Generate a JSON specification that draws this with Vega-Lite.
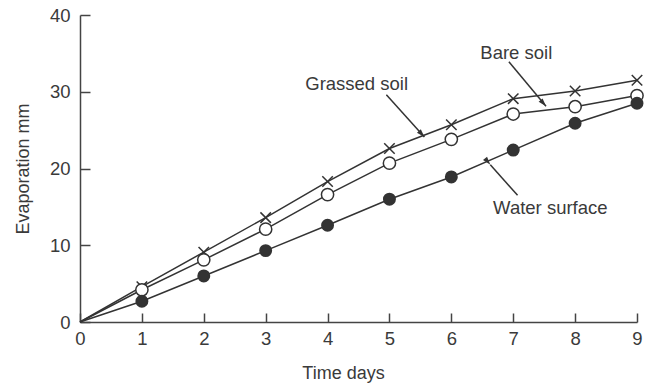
{
  "$schema": "https://vega.github.io/schema/vega-lite/v6.json",
  "width": 557,
  "height": 307,
  "autosize": "none",
  "padding": {"left": 80, "top": 15, "right": 13, "bottom": 63},
  "background": "white",
  "config": {
    "view": {"stroke": null},
    "font": "Liberation Sans",
    "axis": {
      "domainColor": "#444",
      "domainWidth": 1.5,
      "tickColor": "#444",
      "tickWidth": 1.5,
      "grid": false,
      "labelFont": "Liberation Sans",
      "labelFontSize": 18.5,
      "labelColor": "#3a3a3a",
      "labelFlush": false,
      "titleFont": "Liberation Sans",
      "titleFontSize": 18,
      "titleFontWeight": "normal",
      "titleColor": "#3a3a3a"
    }
  },
  "datasets": {
    "series": [
      {"day": 0, "evap": 0, "series": "Grassed soil"},
      {"day": 1, "evap": 4.6, "series": "Grassed soil"},
      {"day": 2, "evap": 9.1, "series": "Grassed soil"},
      {"day": 3, "evap": 13.6, "series": "Grassed soil"},
      {"day": 4, "evap": 18.3, "series": "Grassed soil"},
      {"day": 5, "evap": 22.6, "series": "Grassed soil"},
      {"day": 6, "evap": 25.7, "series": "Grassed soil"},
      {"day": 7, "evap": 29.1, "series": "Grassed soil"},
      {"day": 8, "evap": 30.1, "series": "Grassed soil"},
      {"day": 9, "evap": 31.5, "series": "Grassed soil"},
      {"day": 0, "evap": 0, "series": "Bare soil"},
      {"day": 1, "evap": 4.2, "series": "Bare soil"},
      {"day": 2, "evap": 8.1, "series": "Bare soil"},
      {"day": 3, "evap": 12.1, "series": "Bare soil"},
      {"day": 4, "evap": 16.6, "series": "Bare soil"},
      {"day": 5, "evap": 20.7, "series": "Bare soil"},
      {"day": 6, "evap": 23.8, "series": "Bare soil"},
      {"day": 7, "evap": 27.1, "series": "Bare soil"},
      {"day": 8, "evap": 28.05, "series": "Bare soil"},
      {"day": 9, "evap": 29.5, "series": "Bare soil"},
      {"day": 0, "evap": 0, "series": "Water surface"},
      {"day": 1, "evap": 2.7, "series": "Water surface"},
      {"day": 2, "evap": 6.0, "series": "Water surface"},
      {"day": 3, "evap": 9.3, "series": "Water surface"},
      {"day": 4, "evap": 12.6, "series": "Water surface"},
      {"day": 5, "evap": 16.0, "series": "Water surface"},
      {"day": 6, "evap": 18.9, "series": "Water surface"},
      {"day": 7, "evap": 22.4, "series": "Water surface"},
      {"day": 8, "evap": 25.9, "series": "Water surface"},
      {"day": 9, "evap": 28.5, "series": "Water surface"}
    ],
    "arrows": [
      {"label": "Grassed soil", "day": 5.565, "evap": 24.1, "day2": 4.95, "evap2": 29.6},
      {"label": "Bare soil", "day": 7.53, "evap": 28.1, "day2": 6.93, "evap2": 33.9},
      {"label": "Water surface", "day": 6.63, "evap": 20.5, "day2": 7.07, "evap2": 16.5}
    ],
    "labels": [
      {"label": "Grassed soil", "day": 4.47, "evap": 31.0},
      {"label": "Bare soil", "day": 7.05, "evap": 35.0},
      {"label": "Water surface", "day": 7.6, "evap": 14.85}
    ]
  },
  "encoding": {
    "x": {
      "field": "day",
      "type": "quantitative",
      "scale": {"domain": [0, 9], "nice": false, "zero": false},
      "axis": {
        "title": "Time days",
        "values": [0, 1, 2, 3, 4, 5, 6, 7, 8, 9],
        "format": "d",
        "tickSize": -9,
        "labelPadding": 16,
        "titleX": 263,
        "titleY": 56,
        "titleBaseline": "alphabetic"
      }
    },
    "y": {
      "field": "evap",
      "type": "quantitative",
      "scale": {"domain": [0, 40], "nice": false},
      "axis": {
        "title": "Evaporation mm",
        "values": [0, 10, 20, 30, 40],
        "tickSize": -10,
        "labelPadding": 20,
        "titleX": -52,
        "titleBaseline": "alphabetic"
      }
    }
  },
  "layer": [
    {
      "data": {"name": "series"},
      "mark": {"type": "line", "color": "#333", "strokeWidth": 1.5},
      "encoding": {"detail": {"field": "series"}}
    },
    {
      "data": {"name": "series"},
      "transform": [{"filter": "datum.series == 'Grassed soil' && datum.day > 0"}],
      "mark": {"type": "point", "shape": "M-1,-1L1,1M-1,1L1,-1", "size": 110, "stroke": "#333", "strokeWidth": 1.5, "filled": false, "opacity": 1}
    },
    {
      "data": {"name": "series"},
      "transform": [{"filter": "datum.series == 'Bare soil' && datum.day > 0"}],
      "mark": {"type": "point", "shape": "circle", "size": 150, "stroke": "#333", "strokeWidth": 1.5, "fill": "white", "filled": true, "opacity": 1, "strokeOpacity": 1, "fillOpacity": 1}
    },
    {
      "data": {"name": "series"},
      "transform": [{"filter": "datum.series == 'Water surface' && datum.day > 0"}],
      "mark": {"type": "point", "shape": "circle", "size": 120, "fill": "#333", "stroke": "#333", "filled": true, "opacity": 1}
    },
    {
      "data": {"name": "arrows"},
      "mark": {"type": "rule", "color": "#333", "strokeWidth": 1.5},
      "encoding": {
        "x2": {"field": "day2"},
        "y2": {"field": "evap2"}
      }
    },
    {
      "data": {"name": "arrows"},
      "mark": {"type": "point", "shape": "M0,0L-0.7,2.2L0.7,2.2Z", "size": 56, "fill": "#333", "filled": true, "strokeWidth": 0, "opacity": 1},
      "encoding": {
        "angle": {
          "field": "label",
          "type": "nominal",
          "scale": {"domain": ["Grassed soil", "Bare soil", "Water surface"], "range": [138, 140, 318]},
          "legend": null
        }
      }
    },
    {
      "data": {"name": "labels"},
      "mark": {"type": "text", "font": "Liberation Sans", "fontSize": 18.5, "color": "#3a3a3a", "align": "center", "baseline": "middle"},
      "encoding": {"text": {"field": "label"}}
    }
  ]
}
